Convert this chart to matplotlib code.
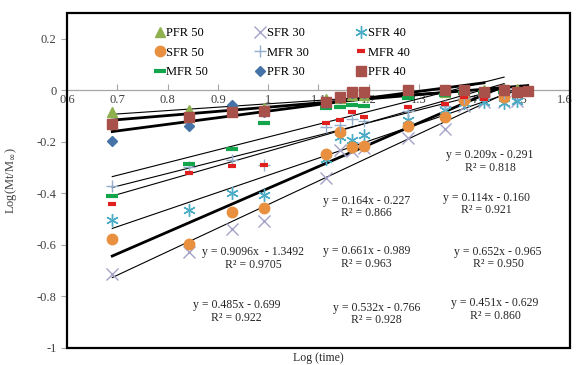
import numpy as np
import matplotlib
matplotlib.use('Agg')
import matplotlib.pyplot as plt
from matplotlib.transforms import ScaledTranslation

plt.rcParams['font.family'] = ['Liberation Serif', 'DejaVu Serif']
plt.rcParams['axes.unicode_minus'] = False

nan = np.nan

# log(time) values shared by all series
log_time = [0.690, 0.842, 0.928, 0.992, 1.114, 1.143, 1.167, 1.190,
            1.278, 1.351, 1.389, 1.429, 1.469, 1.495, 1.516]

pfr50 = [-0.084, -0.078, -0.075, -0.070, -0.032, -0.028, -0.020, -0.018,
         -0.010, -0.005, 0.000, 0.002, 0.004, 0.006, nan]
sfr30 = [-0.711, -0.627, -0.540, -0.508, -0.342, -0.230, -0.235, -0.225,
         -0.184, -0.149, -0.060, -0.045, -0.045, -0.040, nan]
sfr40 = [-0.504, -0.465, -0.398, -0.407, -0.265, -0.181, -0.194, -0.174,
         -0.116, -0.078, -0.050, -0.045, -0.050, -0.040, nan]
sfr50 = [-0.578, -0.597, -0.474, -0.455, -0.249, -0.162, -0.220, -0.217,
         -0.138, -0.103, -0.039, -0.010, -0.026, nan, nan]
mfr30 = [-0.372, -0.297, -0.271, -0.288, -0.142, -0.135, -0.110, -0.120,
         -0.080, -0.060, -0.030, -0.020, -0.010, nan, nan]
mfr40 = [-0.443, -0.319, -0.295, -0.289, -0.127, -0.116, -0.084, -0.103,
         -0.065, -0.052, -0.026, -0.032, -0.015, nan, nan]
mfr50 = [-0.411, -0.287, -0.226, -0.125, -0.067, -0.065, -0.058, -0.062,
         -0.028, -0.020, -0.012, -0.008, -0.005, nan, nan]
pfr30 = [-0.198, -0.138, -0.056, -0.085, -0.050, -0.030, -0.010, -0.010,
         0.000, 0.000, 0.000, -0.005, nan, nan, nan]
pfr40 = [-0.132, -0.103, -0.084, -0.080, -0.045, -0.026, -0.006, -0.006,
         0.000, 0.000, 0.003, -0.006, 0.000, -0.006, -0.004]

x_ticks = [0.6, 0.7, 0.8, 0.9, 1.0, 1.1, 1.2, 1.3, 1.4, 1.5, 1.6]
y_ticks = [-1.0, -0.8, -0.6, -0.4, -0.2, 0.0, 0.2]

# equations as printed on the chart
eq_text = [
    ('y = 0.209x - 0.291\nR² = 0.818', 1.441, -0.277),
    ('y = 0.164x - 0.227\nR² = 0.866', 1.196, -0.452),
    ('y = 0.114x - 0.160\nR² = 0.921', 1.434, -0.442),
    ('y = 0.9096x  - 1.3492\nR² = 0.9705', 0.970, -0.653),
    ('y = 0.661x - 0.989\nR² = 0.963', 1.196, -0.649),
    ('y = 0.652x - 0.965\nR² = 0.950', 1.457, -0.651),
    ('y = 0.485x - 0.699\nR² = 0.922', 0.937, -0.859),
    ('y = 0.532x - 0.766\nR² = 0.928', 1.216, -0.868),
    ('y = 0.451x - 0.629\nR² = 0.860', 1.451, -0.851),
]

# label, values, marker style, trendline width
series = [
    ('PFR 50', pfr50, dict(marker='^', color='#8FB04F', ms=6.5), 0.8),
    ('SFR 30', sfr30, dict(marker='x', color='#A4A2C8', ms=8, mew=1), 0.8),
    ('SFR 40', sfr40, dict(marker=(6, 2, 0), color='#4BACC6', ms=9, mew=1), 0.8),
    ('SFR 50', sfr50, dict(marker='o', color='#E8903F', ms=7.5), 2.0),
    ('MFR 30', mfr30, dict(marker='+', color='#93AECB', ms=8, mew=1), 0.8),
    ('MFR 40', mfr40, dict(marker='_', color='#E01F1F', ms=6, mew=3), 0.8),
    ('MFR 50', mfr50, dict(marker='_', color='#13A54B', ms=8, mew=3), 0.8),
    ('PFR 30', pfr30, dict(marker='D', color='#4572A7', ms=5.5), 2.0),
    ('PFR 40', pfr40, dict(marker='s', color='#A8504A', ms=7.5), 2.0),
]

fig = plt.figure(figsize=(5.76, 3.65), dpi=100)
ax = fig.add_axes([0.1163, 0.0466, 0.8733, 0.9178])

x_all = np.array(log_time)
handles = {}
for name, vals, style, lw in series:
    y = np.array(vals)
    ok = ~np.isnan(y)
    k, b = np.polyfit(x_all[ok], y[ok], 1)
    xs = np.array([x_all[ok].min(), x_all[ok].max()])
    ax.plot(xs, k * xs + b, color='black', lw=lw, zorder=2.6)
    h, = ax.plot(x_all[ok], y[ok], linestyle='none', zorder=3, **style)
    handles[name] = h

ax.set_xlim(0.6, 1.6)
ax.set_ylim(-1, 0.3)
ax.set_xticks(x_ticks)
ax.set_xticklabels(['%g' % t for t in x_ticks])
ax.set_yticks(y_ticks)
ax.set_yticklabels(['%g' % t for t in y_ticks])

# x axis crosses at y = 0, frame drawn separately
for s in ['top', 'right', 'left']:
    ax.spines[s].set_visible(False)
ax.spines['bottom'].set_position(('data', 0))
ax.spines['bottom'].set_color('#A6A6A6')
ax.spines['bottom'].set_linewidth(0.9)
ax.tick_params(axis='x', direction='in', length=4, color='#A6A6A6',
               labelsize=9, labelcolor='#404040', pad=3)
ax.tick_params(axis='y', direction='out', length=4, color='#A6A6A6',
               labelsize=9, labelcolor='#404040')
# last label sits on the frame, nudge it inside the picture
last = ax.get_xticklabels()[-1]
last.set_transform(last.get_transform() + ScaledTranslation(-5 / 100, 0, fig.dpi_scale_trans))

frame = plt.Rectangle((0, 0), 1, 1, transform=ax.transAxes, fill=False,
                      ec='black', lw=1.6, clip_on=False, zorder=5)
ax.add_patch(frame)

for txt, tx, ty in eq_text:
    ax.text(tx, ty, txt, ha='center', va='center', fontsize=8.5,
            color='#262626', linespacing=1.05, zorder=4)

order = ['PFR 50', 'SFR 50', 'MFR 50', 'SFR 30', 'MFR 30', 'PFR 30',
         'SFR 40', 'MFR 40', 'PFR 40']
ax.legend([handles[n] for n in order], order, ncol=3, frameon=False,
          loc='upper left', bbox_to_anchor=(0.163, 0.972), fontsize=9,
          handlelength=0.9, handletextpad=0.1, columnspacing=3.7,
          labelspacing=0.6, borderaxespad=0, numpoints=1)

fig.text(0.552, 0.019, 'Log (time)', ha='center', va='center',
         fontsize=8.5, color='#262626')
ax.set_ylabel('Log(Mt/M$_{\\infty}$)', fontsize=9, color='#404040')
ax.yaxis.set_label_coords(-0.095, 0.5)

fig.savefig('out.png', dpi=100)
